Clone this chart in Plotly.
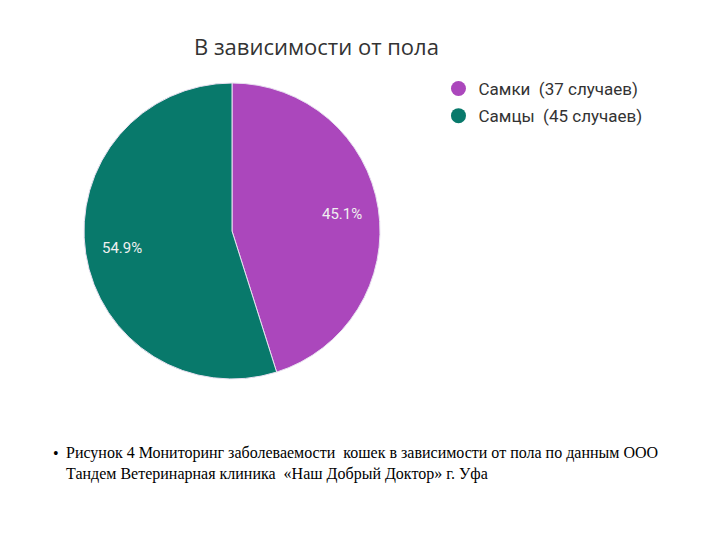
import math
import plotly.graph_objects as go

labels = ["Самки", "Самцы"]
cases = [37, 45]
legend_labels = ["Самки  (37 случаев)", "Самцы  (45 случаев)"]
colors = ["#AB47BC", "#08796B"]

title_text = "В зависимости от пола"
caption_line1 = "Рисунок 4 Мониторинг заболеваемости  кошек в зависимости от пола по данным ООО"
caption_line2 = "Тандем Ветеринарная клиника  «Наш Добрый Доктор» г. Уфа"

W, H = 720, 540
cx, cy, r = 232, 231, 148

fig = go.Figure()
fig.add_trace(go.Pie(
    labels=labels, values=cases, sort=False, direction="clockwise", rotation=0,
    marker=dict(colors=colors, line=dict(color="#e8e0f0", width=1)),
    textinfo="none",
    domain=dict(x=[(cx - r) / W, (cx + r) / W], y=[(H - cy - r) / H, (H - cy + r) / H]),
    showlegend=False, hoverinfo="label+percent",
))
for i, (name, c) in enumerate(zip(legend_labels, colors)):
    fig.add_trace(go.Scatter(x=[None], y=[None], mode="markers", name=name,
                             legendgroup=f"g{i}",
                             marker=dict(symbol="circle", size=15, color=c)))

# percentage labels placed along each slice's bisector at 0.75 of the radius
annotations = []
total = sum(cases)
start = 0.0
for v in cases:
    frac = v / total
    mid = (start + frac / 2) * 2 * math.pi
    px = cx + math.sin(mid) * 0.75 * r
    py = cy - math.cos(mid) * 0.75 * r
    annotations.append(dict(text=f"{frac * 100:.1f}%", x=px / W, y=1 - py / H,
                            xref="paper", yref="paper", showarrow=False,
                            xanchor="center", yanchor="middle",
                            font=dict(family="Roboto, Arial, sans-serif", size=15, color="#f0f0f0")))
    start += frac

annotations += [
    dict(text=title_text, x=316 / W, y=1 - 46 / H, xref="paper", yref="paper",
         showarrow=False, xanchor="center", yanchor="middle",
         font=dict(family="Open Sans, Carlito, sans-serif", size=22, color="#333333")),
    dict(text="•", x=56 / W, y=1 - 453 / H, xref="paper", yref="paper",
         showarrow=False, xanchor="center", yanchor="middle",
         font=dict(family="Liberation Serif, serif", size=16, color="black")),
    dict(text=caption_line1 + "<br>" + caption_line2, x=64 / W, y=1 - 442 / H,
         xref="paper", yref="paper", showarrow=False, xanchor="left", yanchor="top",
         align="left",
         font=dict(family="Liberation Serif, serif", size=16, color="black")),
]

fig.update_layout(
    width=W, height=H, margin=dict(l=0, r=0, t=0, b=0),
    paper_bgcolor="white", plot_bgcolor="white",
    xaxis=dict(visible=False), yaxis=dict(visible=False),
    legend=dict(x=0.609, y=1 - 71 / H, xanchor="left", yanchor="top",
                font=dict(family="Roboto, Arial, sans-serif", size=17, color="#333333"),
                itemwidth=30, tracegroupgap=2, bgcolor="rgba(0,0,0,0)"),
    annotations=annotations,
)
fig.write_html("out.html")
